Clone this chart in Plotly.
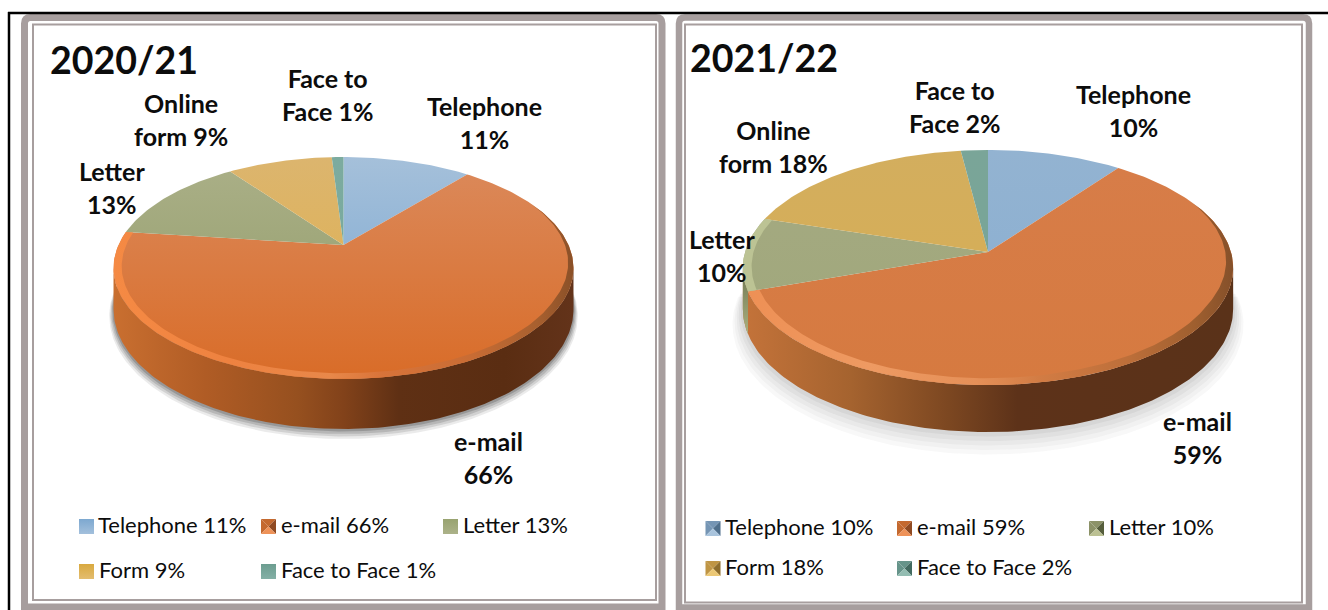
import math
import plotly.graph_objects as go

# ---------- data ----------
categories = ["Telephone", "e-mail", "Letter", "Form", "Face to Face"]
values_2020 = [11, 66, 13, 9, 1]
values_2021 = [10, 59, 10, 18, 2]
slice_labels_2020 = ["Telephone<br>11%", "e-mail<br>66%", "Letter<br>13%", "Online<br>form 9%", "Face to<br>Face 1%"]
slice_labels_2021 = ["Telephone<br>10%", "e-mail<br>59%", "Letter<br>10%", "Online<br>form 18%", "Face to<br>Face 2%"]
titles = ["2020/21", "2021/22"]

# ---------- styles / layout ----------
FONT = "Lato"
GREY = "#a79e9e"
faces_left = [("#a5c0da", "#74a4d0"), ("#db8a5c", "#d96c28"), ("#abb088", "#8f9a66"), ("#dcb56e", "#e0b04a"), ("#7cab9f", "#76a99c")]
faces_right = [("#93b3d1", "#88aed2"), ("#d77d49", "#d67a40"), ("#a5aa82", "#9fa77a"), ("#d3ae5e", "#d8ae52"), ("#7aa598", "#76a598")]
swatch_left = [("#a3c0dc", "#7da8d0"), None, ("#acb289", "#98a370"), ("#e3bd70", "#d9a93f"), ("#84b0a6", "#6c9d90")]
bevel_dark = ["#4f6f8c", "#8f4a22", "#565e3c", "#8f6e2c", "#426a60"]
bevel_mid = ["#7595b4", "#c4692f", "#8c9268", "#bf9544", "#66948a"]
bevel_light = ["#a9c4dd", "#ee9258", "#bcc193", "#ecc875", "#93bdb2"]

geo_left = dict(cx=343.5, cy=245, A=225.0, B=106.2, k=0.207, D=39.7)
geo_right = dict(cx=988.0, cy=252, A=243.0, B=115.5, k=0.132, D=40.8)


def pt(g, t_deg, r=1.0, z=0.0):
    t = math.radians(t_deg)
    u, v = r * math.sin(t), r * math.cos(t)
    d = 1 + g["k"] * v
    return g["cx"] + g["A"] * u / d, g["cy"] - g["B"] * v / d + z * g["D"] / d


def arc(g, t0, t1, r=1.0, z=0.0, step=1.0):
    n = max(2, int(abs(t1 - t0) / step) + 1)
    pts = [pt(g, t0 + (t1 - t0) * i / (n - 1), r, z) for i in range(n)]
    return [p[0] for p in pts], [p[1] for p in pts]


fig = go.Figure()


def poly(xs, ys, color=None, grad=None, gtype="vertical", start=None, stop=None):
    kw = dict(x=list(xs), y=list(ys), mode="lines", line=dict(width=0), fill="toself",
              hoverinfo="skip", showlegend=False)
    if grad:
        n = len(grad) - 1
        scale = [[i / n, c] if not isinstance(c, (list, tuple)) else list(c) for i, c in enumerate(grad)]
        fg = dict(type=gtype, colorscale=scale)
        if start is not None:
            fg["start"], fg["stop"] = start, stop
        kw["fillgradient"] = fg
    else:
        kw["fillcolor"] = color
    fig.add_trace(go.Scatter(**kw))


def band(g, t0, t1, width, ramp):
    """Bevel strip along the rim from t0 to t1; its width grows from 0 over `ramp` degrees."""
    xa, ya = arc(g, t0, t1)
    n = max(2, int(t1 - t0) + 1)
    inner = []
    for i in range(n):
        t = t1 + (t0 - t1) * i / (n - 1)
        f = min(1.0, (t - t0) / ramp)
        inner.append(pt(g, t, 1 - width * f))
    return xa + [p[0] for p in inner], ya + [p[1] for p in inner]


def draw_pie(values, g, faces, side_scale, shadow, side_letter, rim_scale, rim_w):
    total = sum(values)
    bounds = [0.0]
    for v in values:
        bounds.append(bounds[-1] + v / total * 360)
    tl = math.degrees(math.acos(-g["k"]))
    t_right, t_left = tl, 360 - tl

    # soft shadow
    for e, a in shadow:
        xs, ys = arc(g, t_right - 12, t_left + 12, 1 + e / g["A"], 1 + e / 30)
        poly(xs, ys, color=f"rgba(60,60,60,{a})")

    # sides
    x0, y0 = arc(g, t_right, t_left)
    x1, y1 = arc(g, t_left, t_right, 1, 1)
    poly(x0 + x1, y0 + y1, grad=side_scale, gtype="horizontal")
    if bounds[2] < t_left:
        x0, y0 = arc(g, bounds[2], t_left)
        x1, y1 = arc(g, t_left, bounds[2], 1, 1)
        poly(x0 + x1, y0 + y1, grad=side_letter, gtype="vertical")

    # top faces
    top, bot = g["cy"] - g["B"] / (1 + g["k"]), g["cy"] + g["B"] / (1 - g["k"])
    for i in range(len(values)):
        xs, ys = arc(g, bounds[i], bounds[i + 1])
        xs = [g["cx"]] + xs + [g["cx"]]
        ys = [g["cy"]] + ys + [g["cy"]]
        poly(xs, ys, grad=[faces[i][0], faces[i][1]], gtype="vertical", start=top, stop=bot)

    # bevelled rim on the e-mail slice
    xs, ys = band(g, bounds[1] + 25, bounds[2], rim_w, 55)
    poly(xs, ys, grad=rim_scale, gtype="horizontal")
    return bounds


side_l = [[0, "#c96f30"], [0.2, "#b05c25"], [0.4, "#96501f"], [0.5, "#82421a"], [0.62, "#5f3014"], [0.85, "#5a2d12"], [1, "#63331a"]]
side_r = [[0, "#c4733a"], [0.22, "#a5632f"], [0.42, "#7c4721"], [0.56, "#5d3219"], [1, "#5a3219"]]
rim_l = [[0, "#f58a44"], [0.25, "#ee8240"], [0.47, "#e8884a"], [0.58, "#d9743a"], [0.78, "#c86c34"], [0.92, "#a8602f"], [1, "#8a5028"]]
rim_r = [[0, "#ee9055"], [0.25, "#ee9a62"], [0.47, "#e59058"], [0.6, "#d27c44"], [0.78, "#bd6f3a"], [0.92, "#9f5f2f"], [1, "#85502a"]]
letter_side = ["#aab07f", "#6d7550"]

draw_pie(values_2020, geo_left, faces_left, side_l,
         [(4, 0.10), (3, 0.14), (2, 0.18), (1, 0.25)], letter_side, rim_l, 0.034)
b21 = draw_pie(values_2021, geo_right, faces_right, side_r,
               [(10, 0.035), (8, 0.035), (6, 0.04), (4, 0.05), (2, 0.06)], letter_side, rim_r, 0.045)
# pale rim of the Letter slice in 2021/22
xa, ya = arc(geo_right, b21[2], b21[3])
xb, yb = arc(geo_right, b21[3], b21[2], 0.965)
poly(xa + xb, ya + yb, color="#bcc394")


# ---------- legends ----------
def swatch(x, y, w, h, stops, idx):
    x2, y2 = x + w, y + h
    mx, my = x + w / 2, y + h / 2
    if stops:
        poly([x, x2, x2, x, x], [y, y, y2, y2, y], grad=list(stops), gtype="vertical")
    else:
        poly([x, x2, mx, x], [y, y, my, y], color=bevel_mid[idx])
        poly([x2, x2, mx, x2], [y, y2, my, y], color=bevel_dark[idx])
        poly([x, mx, x, x], [y, my, y2, y], color=bevel_mid[idx])
        poly([x, x2, mx, x], [y2, y2, my, y2], color=bevel_light[idx])


left_pos = [(79, 519, 96), (261, 519, 279), (443, 519, 461), (79, 564, 97), (261, 564, 279)]
right_pos = [(705.5, 521, 722.5), (897, 521, 915), (1089, 521, 1106.5), (705.5, 561, 722.5), (897, 561, 915)]
annotations = []


def text(x, y, s, size, bold=False, xanchor="center"):
    annotations.append(dict(x=x, y=y, xref="x", yref="y", text=f"<b>{s}</b>" if bold else s,
                            showarrow=False, xanchor=xanchor, yanchor="middle", align="center",
                            font=dict(family=FONT, size=size, color="#0c0c0c")))


for i, c in enumerate(categories):
    x, y, tx = left_pos[i]
    swatch(x, y, 15, 15, swatch_left[i], i)
    text(tx, y + 5.5, f"{c} {values_2020[i]}%", 22, xanchor="left")
    x, y, tx = right_pos[i]
    swatch(x, y, 15, 15, None, i)
    text(tx, y + 5.5, f"{c} {values_2021[i]}%", 22, xanchor="left")

label_pos_left = [(484, 122), (488, 457), (112, 187), (181, 119), (327, 94)]
label_pos_right = [(1133, 110), (1197, 437), (722, 255), (773, 146), (954, 106)]
for (x, y), s in zip(label_pos_left, slice_labels_2020):
    text(x, y, s, 25, bold=True)
for (x, y), s in zip(label_pos_right, slice_labels_2021):
    text(x, y, s, 25, bold=True)
text(48, 59, titles[0], 37.5, bold=True, xanchor="left")
text(688, 57, titles[1], 37.5, bold=True, xanchor="left")


# ---------- frames ----------
def rrect(x0, y0, x1, y1, w, r=0):
    if r:
        p = (f"M{x0},{y1} L{x0},{y0 + r} Q{x0},{y0} {x0 + r},{y0} L{x1 - r},{y0} "
             f"Q{x1},{y0} {x1},{y0 + r} L{x1},{y1} Z")
    else:
        p = f"M{x0},{y0} L{x1},{y0} L{x1},{y1} L{x0},{y1} Z"
    return dict(type="path", path=p, line=dict(color=GREY, width=w), layer="below")


shapes = [
    rrect(24.5, 17.5, 662, 607, 7, 6), rrect(33, 24.5, 656, 600, 2),
    rrect(679, 17.5, 1309, 607.5, 6.5, 6), rrect(685, 24.5, 1302, 602.5, 2),
    dict(type="line", x0=8, x1=1328, y0=13, y1=13, line=dict(color="#000", width=2.5)),
    dict(type="line", x0=9, x1=9, y0=12, y1=610, line=dict(color="#000", width=2.5)),
]

fig.update_layout(
    width=1328, height=610, margin=dict(l=0, r=0, t=0, b=0),
    paper_bgcolor="white", plot_bgcolor="white", showlegend=False,
    xaxis=dict(range=[0, 1328], visible=False, fixedrange=True),
    yaxis=dict(range=[610, 0], visible=False, fixedrange=True),
    shapes=shapes, annotations=annotations,
)
fig.write_html("out.html", config={"displayModeBar": False},
               post_script="document.body.style.margin='0';document.body.style.overflow='hidden';")
